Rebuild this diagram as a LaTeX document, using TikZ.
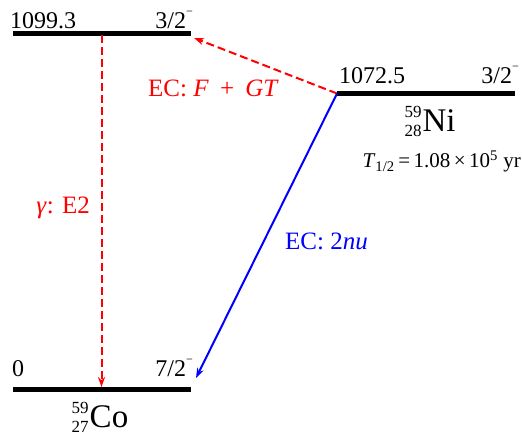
\documentclass[tikz,border=0pt]{standalone}
\usepackage{fontspec}
\setmainfont{Liberation Serif}
\usetikzlibrary{arrows.meta, positioning}

\newcommand{\nuc}[3]{{\fontsize{17}{17}\selectfont\rlap{\raisebox{14pt}{#1}}\raisebox{-5pt}{#2}}\hspace{1pt}#3}
\newcommand{\spin}[1]{#1\raisebox{0.55em}{\fontsize{12}{12}\selectfont −}}

\begin{document}
\begin{tikzpicture}[
  x=1pt, y=-1pt,
  >={Stealth[length=10pt, width=7pt]},
  level/.style={line width=4.5pt},
  lvltext/.style={inner sep=0pt, font=\fontsize{24}{26}\selectfont},
  trtext/.style={inner sep=0pt, font=\fontsize{25}{27}\selectfont},
  nuctext/.style={inner sep=0pt, font=\fontsize{33}{36}\selectfont},
  gammaline/.style={->, red, line width=2pt, dash pattern=on 8pt off 4pt},
  ecline/.style={->, blue, line width=2pt}
]
\useasboundingbox (0,0) rectangle (522,443);

\coordinate (coL) at (13,389.5);
\coordinate (coR) at (191,389.5);
\coordinate (exL) at (13,33.5);
\coordinate (exR) at (191,33.5);
\coordinate (niL) at (337,93.5);
\coordinate (niR) at (515,93.5);

\draw[level] (exL) -- (exR);
\draw[level] (niL) -- (niR);
\draw[level] (coL) -- (coR);

\node (exE) [lvltext, anchor=base west] at (10,29) {1099.3};
\node (exJ) [lvltext, anchor=base east] at (193,29) {\spin{3/2}};
\node (niE) [lvltext, anchor=base west] at (339,84) {1072.5};
\node (niJ) [lvltext, anchor=base east] at (519,84) {\spin{3/2}};
\node (coE) [lvltext, anchor=base west] at (12,377) {0};
\node (coJ) [lvltext, anchor=base east] at (193,377) {\spin{7/2}};

\node (ni) [nuctext, anchor=base] at (430,132) {\nuc{59}{28}{Ni}};
\node (co) [nuctext, anchor=base] at (100,428) {\nuc{59}{27}{Co}};
\node (half) [inner sep=0pt, font=\fontsize{21}{23}\selectfont, anchor=base east] at (521,168)
  {\textit{T}\textsubscript{1/2}\,=\,1.08\,×\,10\textsuperscript{5} yr};

\coordinate (gTop) at (101.5,35.5);
\coordinate (gBot) at (101.5,387);
\coordinate (ecTip) at (194,38);
\coordinate (nuTip) at (196,378);

\draw[gammaline] (gTop) -- (gBot);
\draw[gammaline] (niL) -- (ecTip);
\draw[ecline] (niL) -- (nuTip);

\node (fgt) [trtext, red, anchor=base west] at (148,97)
  {EC: \textit{F}\hspace{0.45em}+\hspace{0.45em}\textit{GT}};
\node (e2) [trtext, red, anchor=base east] at (90,214) {\textit{γ}: E2};
\node (nu) [trtext, blue, anchor=base west] at (285,250) {EC: 2\textit{nu}};
\end{tikzpicture}
\end{document}
